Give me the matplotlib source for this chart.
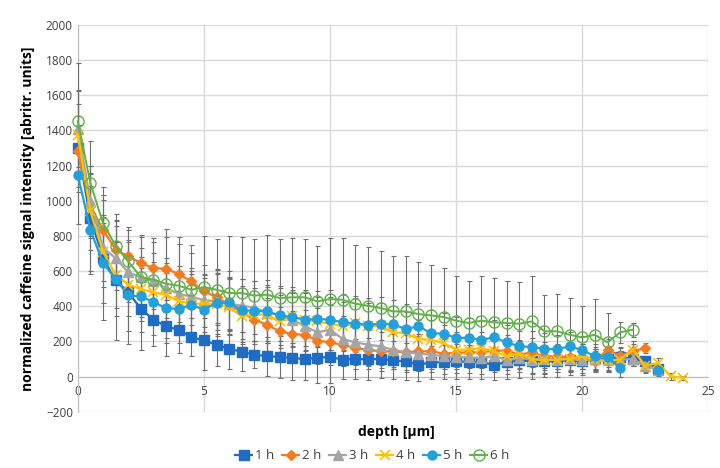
import numpy as np
import matplotlib
matplotlib.use("Agg")
import matplotlib.pyplot as plt

nan = np.nan

depth = [i * 0.5 for i in range(49)]  # 0 .. 24 um

h1 = [1300, 900, 676, 548, 480, 386, 324, 286, 267, 225, 206, 182, 157, 142, 125, 116, 112, 106, 100, 108,
      112, 97, 100, 100, 100, 93, 87, 68, 81, 82, 87, 84, 81, 68, 81, 93, 87, 87, 87, 93, 87, 100, 100, 112,
      100, 87, 43]
h2 = [1280, 970, 835, 722, 684, 646, 617, 613, 583, 542, 485, 453, 409, 366, 324, 295, 258, 242, 238, 204,
      195, 180, 163, 153, 144, 144, 138, 144, 144, 131, 136, 138, 138, 148, 148, 125, 138, 116, 116, 110, 113,
      87, 153, 119, 144, 163]
h3 = [1410, 1000, 731, 674, 593, 564, 542, 504, 470, 456, 434, 428, 415, 403, 393, 362, 352, 324, 286, 252,
      267, 214, 195, 182, 172, 153, 138, 131, 125, 116, 112, 109, 106, 116, 97, 106, 97, 100, 97, 100, 93, 100,
      93, 97, 100, 59, 40]
h4 = [1375, 940, 710, 580, 523, 498, 479, 466, 428, 415, 415, 415, 396, 343, 352, 352, 314, 343, 324, 314,
      301, 286, 305, 290, 286, 252, 248, 214, 210, 191, 153, 153, 163, 144, 116, 131, 100, 93, 97, 100, 116,
      97, 87, 97, 153, 62, 78, 2, -7]
h5 = [1148, 835, 646, 555, 462, 456, 424, 390, 384, 409, 381, 419, 422, 377, 375, 371, 348, 339, 324, 328,
      324, 309, 301, 295, 301, 298, 271, 286, 248, 244, 220, 221, 210, 223, 195, 172, 169, 157, 157, 172, 150,
      116, 113, 49, nan, nan, 36]
h6 = [1451, 1100, 873, 744, 655, 566, 551, 528, 517, 494, 509, 494, 475, 475, 461, 466, 447, 451, 451, 428,
      441, 437, 415, 403, 390, 371, 371, 356, 348, 339, 318, 305, 318, 309, 305, 301, 314, 258, 258, 238, 223,
      238, 195, 252, 267]

e1 = [250, 300, 356, 341, 294, 233, 148, 170, 133, 109, 166, 123, 114, 112, 76, 110, 120, 123, 117, 142, 146,
      110, 115, 117, 110, 108, 105, 90, 95, 98, 100, 95, 95, 85, 95, 100, 100, 90, 90, 85, 80, 70, 60, 50, 40,
      30, 20]
e2 = [200, 180, 170, 160, 150, 160, 170, 180, 170, 160, 150, 160, 150, 150, 140, 150, 140, 130, 140, 130, 130,
      120, 120, 110, 110, 100, 100, 100, 100, 90, 90, 90, 90, 90, 90, 80, 80, 80, 70, 70, 70, 60, 60, 50, 40, 30]
e3 = [220, 200, 190, 180, 170, 170, 160, 170, 160, 160, 150, 160, 150, 150, 150, 160, 150, 150, 140, 140, 140,
      130, 130, 120, 120, 110, 110, 100, 100, 100, 90, 90, 90, 90, 80, 80, 80, 80, 70, 70, 70, 60, 60, 50, 40,
      30, 20]
e4 = [250, 220, 200, 190, 180, 180, 170, 180, 170, 170, 160, 170, 160, 160, 150, 160, 150, 150, 150, 140, 150,
      140, 140, 130, 130, 120, 120, 110, 110, 100, 100, 90, 90, 90, 80, 80, 80, 80, 70, 70, 70, 60, 60, 50, 50,
      40, 30, 20, 10]
e5 = [280, 250, 230, 210, 200, 200, 190, 200, 190, 190, 180, 190, 180, 180, 170, 180, 170, 170, 170, 160, 170,
      160, 160, 150, 150, 140, 140, 130, 130, 120, 120, 110, 110, 100, 100, 90, 90, 90, 80, 80, 80, 70, 60, 50,
      nan, nan, 30]
e6 = [330, 240, 207, 180, 195, 227, 216, 311, 276, 256, 288, 288, 326, 318, 322, 341, 335, 337, 331, 312, 347,
      351, 335, 334, 322, 317, 313, 294, 288, 278, 256, 237, 256, 252, 237, 235, 260, 208, 214, 209, 180, 203,
      167, 60, 40]

labels = ["1 h", "2 h", "3 h", "4 h", "5 h", "6 h"]
values = [h1, h2, h3, h4, h5, h6]
errors = [e1, e2, e3, e4, e5, e6]

colors = ["#1F6CC4", "#F47B20", "#A5A5A5", "#FFC000", "#22A0DC", "#5DB346"]
markers = ["s", "D", "^", "x", "o", "o"]
msizes = [6.5, 5.5, 6.5, 7, 6.5, 8]

plt.rcParams['font.family'] = ['Open Sans', 'DejaVu Sans']

fig = plt.figure(figsize=(7.2, 4.68), dpi=100)
ax = fig.add_axes([0.108, 0.12, 0.876, 0.827])

for vals, errs in zip(values, errors):
    n = len(vals)
    ax.errorbar(depth[:n], vals, yerr=errs, fmt='none', ecolor='#6f6f6f', elinewidth=0.8,
                capsize=1.8, capthick=0.8, zorder=2.6, clip_on=False)

for vals, lab, c, m, ms in zip(values, labels, colors, markers, msizes):
    n = len(vals)
    if lab == "6 h":
        ax.plot(depth[:n], vals, color=c, lw=1.4, marker=m, ms=ms, mfc='none', mec=c, mew=1.0,
                label=lab, zorder=3, clip_on=False)
    elif lab == "4 h":
        ax.plot(depth[:n], vals, color=c, lw=1.6, marker=m, ms=ms, mec=c, mew=1.2, label=lab, zorder=3,
                clip_on=False)
    else:
        ax.plot(depth[:n], vals, color=c, lw=1.6, marker=m, ms=ms, mfc=c, mec=c, label=lab, zorder=3,
                clip_on=False)

ax.set_xlim(0, 25)
ax.set_ylim(-200, 2000)
ax.set_xticks([0, 5, 10, 15, 20, 25])
ax.set_yticks(list(range(-200, 2001, 200)))
ax.grid(True, color='#d9d9d9', lw=1.0, zorder=0)
ax.set_axisbelow(True)

for s in ['top', 'right']:
    ax.spines[s].set_visible(False)
ax.spines['bottom'].set_position(('data', 0))
ax.spines['bottom'].set_color('#bfbfbf')
ax.spines['left'].set_color('#bfbfbf')
ax.tick_params(axis='both', length=0, labelsize=8.5, labelcolor='#404040')
ax.tick_params(axis='x', pad=6)

ax.set_ylabel("normalized caffeine signal intensity [abritr. units]", fontsize=10, fontweight='bold',
              labelpad=8)
fig.text(0.551, 0.077, "depth [µm]", ha='center', va='center', fontsize=10, fontweight='bold')

handles, labs = ax.get_legend_handles_labels()
fig.legend(handles, labs, loc='center', bbox_to_anchor=(0.517, 0.026), ncol=6, frameon=False,
           fontsize=9.5, handlelength=1.3, handletextpad=0.2, columnspacing=0.6, labelcolor='#404040')

fig.savefig("out.png", dpi=100)
